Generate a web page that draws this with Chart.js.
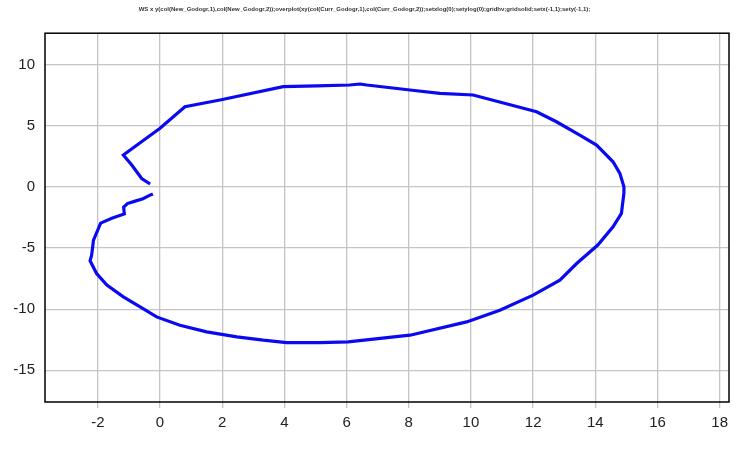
<!DOCTYPE html>
<html>
<head>
<meta charset="utf-8">
<script src="https://cdn.jsdelivr.net/npm/chart.js@4"></script>
<style>
html,body{margin:0;padding:0;background:#fff;}
#wrap{width:752px;height:454px;}
</style>
</head>
<body>
<div id="wrap"><canvas id="c" width="752" height="454"></canvas></div>
<script>
const titleText = "WS x y(col(New_Godogr,1),col(New_Godogr,2));overplot(xy(col(Curr_Godogr,1),col(Curr_Godogr,2));setxlog(0);setylog(0);gridhv;gridsolid;setx(-1,1);sety(-1,1);";
const xTicks = [-2, 0, 2, 4, 6, 8, 10, 12, 14, 16, 18];
const yTicks = [-15, -10, -5, 0, 5, 10];
const curveX = [-0.32, -0.59, -0.91, -1.18, 0.00, 0.80, 1.93, 3.96, 5.04, 6.10, 6.43, 6.65, 8.04, 9.00, 10.07, 12.11, 12.75, 13.50, 14.04, 14.57, 14.79, 14.92, 14.92, 14.84, 14.57, 14.08, 13.40, 12.86, 12.00, 10.93, 9.86, 8.04, 6.05, 5.14, 4.07, 3.32, 2.47, 1.50, 0.64, -0.11, -0.64, -1.18, -1.71, -2.04, -2.25, -2.20, -2.14, -1.91, -1.53, -1.15, -1.17, -1.05, -0.80, -0.55, -0.34, -0.23];
const curveY = [0.25, 0.70, 1.80, 2.62, 4.81, 6.58, 7.13, 8.22, 8.28, 8.36, 8.44, 8.36, 7.95, 7.68, 7.54, 6.17, 5.35, 4.26, 3.44, 2.07, 1.12, 0.03, -0.50, -2.16, -3.25, -4.75, -6.26, -7.62, -8.85, -10.08, -11.04, -12.13, -12.68, -12.73, -12.73, -12.54, -12.27, -11.86, -11.31, -10.63, -9.81, -8.99, -8.03, -7.08, -6.04, -5.57, -4.34, -2.95, -2.54, -2.20, -1.65, -1.35, -1.15, -0.95, -0.68, -0.56];

const points = curveX.map((x, i) => ({x: x, y: curveY[i]}));

const frame = {
  id: 'frame',
  afterDraw(chart) {
    const a = chart.chartArea, ctx = chart.ctx;
    ctx.save();
    ctx.strokeStyle = '#000';
    ctx.lineWidth = 1.5;
    ctx.strokeRect(a.left, a.top, a.right - a.left, a.bottom - a.top);
    ctx.restore();
  }
};

new Chart(document.getElementById('c'), {
  type: 'scatter',
  data: {
    datasets: [{
      data: points,
      showLine: true,
      borderColor: '#0a0af0',
      borderWidth: 3.2,
      pointRadius: 0,
      tension: 0,
      fill: false
    }]
  },
  options: {
    responsive: false,
    animation: false,
    devicePixelRatio: 1,
    layout: {padding: {left: 0, right: 23, top: 0, bottom: 0}},
    plugins: {
      legend: {display: false},
      tooltip: {enabled: false},
      title: {
        display: true,
        text: titleText,
        color: '#333',
        font: {family: 'Liberation Sans', size: 6},
        padding: {top: 6, bottom: 20}
      }
    },
    scales: {
      x: {
        type: 'linear',
        min: -3.7, max: 18.3,
        afterBuildTicks: s => { s.ticks = xTicks.map(v => ({value: v})); },
        afterFit: s => { s.height = 52; },
        grid: {color: '#c4c4c4', lineWidth: 1.3, tickLength: 6, drawTicks: true},
        border: {display: false},
        ticks: {color: '#222', font: {family: 'Liberation Sans', size: 15}, padding: 6, maxRotation: 0, autoSkip: false}
      },
      y: {
        type: 'linear',
        min: -17.6, max: 12.6,
        afterBuildTicks: s => { s.ticks = yTicks.map(v => ({value: v})); },
        afterFit: s => { s.width = 45; },
        grid: {color: '#c4c4c4', lineWidth: 1.3, tickLength: 4, drawTicks: false},
        border: {display: false},
        ticks: {color: '#222', font: {family: 'Liberation Sans', size: 15}, padding: 10, autoSkip: false}
      }
    }
  },
  plugins: [frame]
});
</script>
</body>
</html>
